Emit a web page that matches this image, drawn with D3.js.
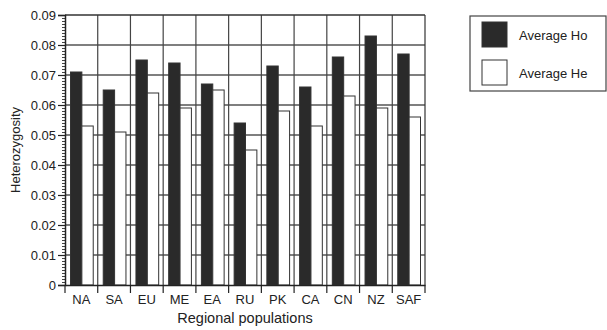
<!DOCTYPE html>
<html>
<head>
<meta charset="utf-8">
<script src="https://cdn.jsdelivr.net/npm/d3@7"></script>
<style>
  body { margin: 0; background: #fff; }
  text { font-family: "Liberation Sans", Arial, sans-serif; fill: #222; }
</style>
</head>
<body>
<div id="chart"></div>
<script>
// Chart data
var regions = ["NA", "SA", "EU", "ME", "EA", "RU", "PK", "CA", "CN", "NZ", "SAF"];
var avgHo = [0.071, 0.065, 0.075, 0.074, 0.067, 0.054, 0.073, 0.066, 0.076, 0.083, 0.077];
var avgHe = [0.053, 0.051, 0.064, 0.059, 0.065, 0.045, 0.058, 0.053, 0.063, 0.059, 0.056];
var seriesNames = ["Average Ho", "Average He"];
var yTicks = [0, 0.01, 0.02, 0.03, 0.04, 0.05, 0.06, 0.07, 0.08, 0.09];

var margin = { top: 15, right: 182, bottom: 45, left: 65 };
var chartWidth = 607 - margin.left - margin.right;
var chartHeight = 330 - margin.top - margin.bottom;

var svg = d3.select("#chart").append("svg")
    .attr("width", 607)
    .attr("height", 330);

var chartGroup = svg.append("g")
    .attr("transform", `translate(${margin.left}, ${margin.top})`);

// Scales
var xScale = d3.scaleBand().domain(regions).range([0, chartWidth]).padding(0);
var xInner = d3.scaleBand().domain(seriesNames)
    .range([5.5, xScale.bandwidth() - 4.5]).padding(0);
var yScale = d3.scaleLinear().domain([0, 0.09]).range([chartHeight, 0]);

var colors = { "Average Ho": "#2a2a2a", "Average He": "#ffffff" };

// Grid: horizontal bands as thin rects, vertical lines at group edges
chartGroup.selectAll("rect.hgrid")
    .data(yTicks.slice(1, 9))
    .enter()
    .append("rect")
    .attr("class", "hgrid")
    .attr("x", 0)
    .attr("width", chartWidth)
    .attr("y", d => yScale(d) - 1)
    .attr("height", 2)
    .attr("fill", "#7f7f7f");

chartGroup.selectAll("line.vgrid")
    .data(regions.slice(1))
    .enter()
    .append("line")
    .attr("class", "vgrid")
    .attr("x1", d => xScale(d))
    .attr("x2", d => xScale(d))
    .attr("y1", 0)
    .attr("y2", chartHeight)
    .attr("stroke", "#444")
    .attr("stroke-width", 1.2);

// Bars: Ho
chartGroup.selectAll("rect.ho")
    .data(avgHo)
    .enter()
    .append("rect")
    .attr("class", "ho")
    .attr("x", (d, i) => xScale(regions[i]) + xInner(seriesNames[0]))
    .attr("width", xInner.bandwidth())
    .attr("y", d => yScale(d))
    .attr("height", d => chartHeight - yScale(d))
    .attr("fill", colors["Average Ho"])
    .attr("stroke", "#333")
    .attr("stroke-width", 1);

// Bars: He
chartGroup.selectAll("rect.he")
    .data(avgHe)
    .enter()
    .append("rect")
    .attr("class", "he")
    .attr("x", (d, i) => xScale(regions[i]) + xInner(seriesNames[1]))
    .attr("width", xInner.bandwidth())
    .attr("y", d => yScale(d))
    .attr("height", d => chartHeight - yScale(d))
    .attr("fill", colors["Average He"])
    .attr("stroke", "#333")
    .attr("stroke-width", 1);

// Frame (top and right)
chartGroup.append("line")
    .attr("x1", 0).attr("x2", chartWidth)
    .attr("y1", 0).attr("y2", 0)
    .attr("stroke", "#333").attr("stroke-width", 1.5);
chartGroup.append("line")
    .attr("x1", chartWidth).attr("x2", chartWidth)
    .attr("y1", 0).attr("y2", chartHeight)
    .attr("stroke", "#333").attr("stroke-width", 1.2);

// Y axis: minor ticks then major ticks with labels
var yMinor = d3.range(0, 91).map(d => d / 1000);
var yMinorAxis = chartGroup.append("g")
    .call(d3.axisLeft(yScale).tickValues(yMinor).tickSize(3).tickFormat(""));
yMinorAxis.select(".domain").remove();
yMinorAxis.selectAll("text").remove();
yMinorAxis.selectAll("line").attr("stroke", "#444");

var yAxis = chartGroup.append("g")
    .call(d3.axisLeft(yScale).tickValues(yTicks).tickSize(7).tickPadding(2)
        .tickFormat(d => d === 0 ? "0" : d3.format(".2f")(d)));
yAxis.select(".domain").attr("stroke", "#222").attr("stroke-width", 1.5);
yAxis.selectAll("line").attr("stroke", "#222").attr("stroke-width", 1.2);
yAxis.selectAll("text").attr("font-size", "13px").attr("fill", "#222");

// X axis
var xAxis = chartGroup.append("g")
    .attr("transform", `translate(0, ${chartHeight})`)
    .call(d3.axisBottom(xScale).tickSize(0).tickPadding(10));
xAxis.select(".domain").attr("stroke", "#222").attr("stroke-width", 1.5);
xAxis.selectAll("text").attr("font-size", "13px").attr("fill", "#222");

// x boundary ticks
var xEdges = regions.map(d => xScale(d)).concat([chartWidth]);
chartGroup.selectAll("line.xtick")
    .data(xEdges)
    .enter()
    .append("line")
    .attr("class", "xtick")
    .attr("x1", d => d)
    .attr("x2", d => d)
    .attr("y1", chartHeight)
    .attr("y2", chartHeight + 8)
    .attr("stroke", "#222")
    .attr("stroke-width", 1.2);

// Axis labels
chartGroup.append("text")
    .attr("x", chartWidth / 2)
    .attr("y", chartHeight + 38)
    .attr("text-anchor", "middle")
    .attr("font-size", "14.5px")
    .text("Regional populations");

chartGroup.append("text")
    .attr("transform", "rotate(-90)")
    .attr("x", -chartHeight / 2)
    .attr("y", -45)
    .attr("text-anchor", "middle")
    .attr("font-size", "13px")
    .text("Heterozygosity");

// Legend
var legend = svg.append("g")
    .attr("transform", "translate(470, 16)");

legend.append("rect")
    .attr("width", 136).attr("height", 75)
    .attr("fill", "#fff")
    .attr("stroke", "#444")
    .attr("stroke-width", 1.2);

var legendItems = legend.selectAll("g.item")
    .data(seriesNames)
    .enter()
    .append("g")
    .attr("class", "item")
    .attr("transform", (d, i) => `translate(12, ${6 + i * 38})`);

legendItems.append("rect")
    .attr("width", 25)
    .attr("height", 25)
    .attr("fill", d => colors[d])
    .attr("stroke", "#333")
    .attr("stroke-width", 1);

legendItems.append("text")
    .attr("x", 37)
    .attr("y", 13)
    .attr("dy", "0.35em")
    .attr("font-size", "13px")
    .text(d => d);
</script>
</body>
</html>
